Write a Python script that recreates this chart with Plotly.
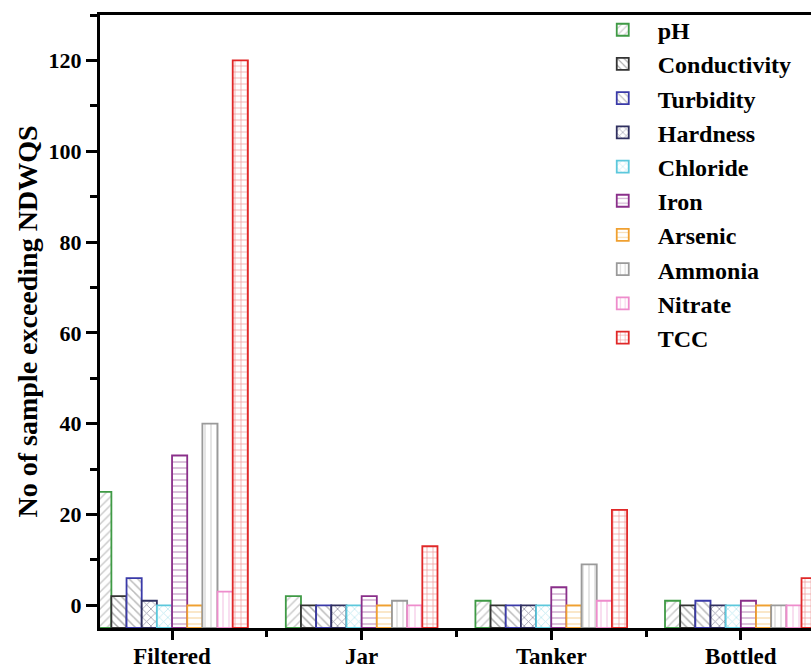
import numpy as np
import plotly.graph_objects as go

categories = ["Filtered", "Jar", "Tanker", "Bottled"]
params = ["pH", "Conductivity", "Turbidity", "Hardness", "Chloride",
          "Iron", "Arsenic", "Ammonia", "Nitrate", "TCC"]

pH = [25, 2, 1, 1]
conductivity = [2, 0, 0, 0]
turbidity = [6, 0, 0, 1]
hardness = [1, 0, 0, 0]
chloride = [0, 0, 0, 0]
iron = [33, 2, 4, 1]
arsenic = [0, 0, 0, 0]
ammonia = [40, 1, 9, 0]
nitrate = [3, 0, 1, 0]
tcc = [120, 13, 21, 6]

series = [pH, conductivity, turbidity, hardness, chloride,
          iron, arsenic, ammonia, nitrate, tcc]

line_colors = ["#3f9a45", "#333333", "#3a3aa8", "#303060", "#5cc8dc",
               "#8a2f8a", "#f0a030", "#9a9a9a", "#ee8ccc", "#e02828"]
fg_colors = ["#9a9a9a", "#555555", "#777777", "#333355", "#7fd3e3",
             "#a060a0", "#f2c070", "#bbbbbb", "#f0a8d8", "#e04848"]
shapes = ["/", "\\", "\\", "x", "x", "-", "-", "|", "|", "+"]

Y_MIN, Y_MAX = -5, 130
FONT = "Liberation Serif"

fig = go.Figure()
x_pos = np.arange(len(categories))
for name, vals, lc, fc, sh in zip(params, series, line_colors, fg_colors, shapes):
    v = np.array(vals, dtype=float)
    fig.add_trace(go.Bar(
        x=x_pos, y=v - Y_MIN, base=Y_MIN, name=name,
        marker=dict(color="white",
                    line=dict(color=lc, width=1.8),
                    pattern=dict(shape=sh, fgcolor=fc, bgcolor="white",
                                 size=6, solidity=0.25, fillmode="overlay")),
        customdata=v, hovertemplate="%{customdata}<extra>" + name + "</extra>",
    ))

fig.update_layout(
    width=811, height=669,
    margin=dict(l=100, r=0, t=15, b=41, autoexpand=False),
    paper_bgcolor="white", plot_bgcolor="white",
    barmode="group", bargap=0.2, bargroupgap=0,
    font=dict(family=FONT, color="black"),
    showlegend=True,
    legend=dict(x=0.686, y=1.012, xanchor="left", yanchor="top",
                font=dict(family=FONT, size=24, color="black", weight="bold"),
                bgcolor="rgba(0,0,0,0)", borderwidth=0, tracegroupgap=0,
                itemwidth=60, maxheight=600),
)

fig.update_xaxes(
    range=[-0.38, 3.37], automargin=False,
    tickmode="array", tickvals=list(x_pos), ticktext=categories,
    tickfont=dict(family=FONT, size=23, color="black", weight="bold"),
    ticks="outside", ticklen=9, tickwidth=3, tickcolor="black",
    ticklabelstandoff=-4,
    minor=dict(tickmode="array", tickvals=[0.5, 1.5, 2.5], ticks="outside",
               ticklen=6, tickwidth=3, tickcolor="black"),
    showline=True, linewidth=3, linecolor="black", mirror=True,
    showgrid=False, zeroline=False,
)
fig.update_yaxes(
    range=[Y_MIN, Y_MAX], automargin=False,
    tickmode="linear", tick0=0, dtick=20,
    tickfont=dict(family=FONT, size=22, color="black", weight="bold"),
    ticks="outside", ticklen=11, tickwidth=3, tickcolor="black",
    minor=dict(tickmode="linear", tick0=0, dtick=10, ticks="outside",
               ticklen=7, tickwidth=3, tickcolor="black"),
    showline=True, linewidth=3, linecolor="black", mirror=False,
    showgrid=False, zeroline=False,
    title=dict(text="No of sample exceeding NDWQS",
               font=dict(family=FONT, size=28, color="black", weight="bold"),
               standoff=3),
)

fig.write_html("out.html", config={"displayModeBar": False},
               post_script="document.body.style.margin='0';")
